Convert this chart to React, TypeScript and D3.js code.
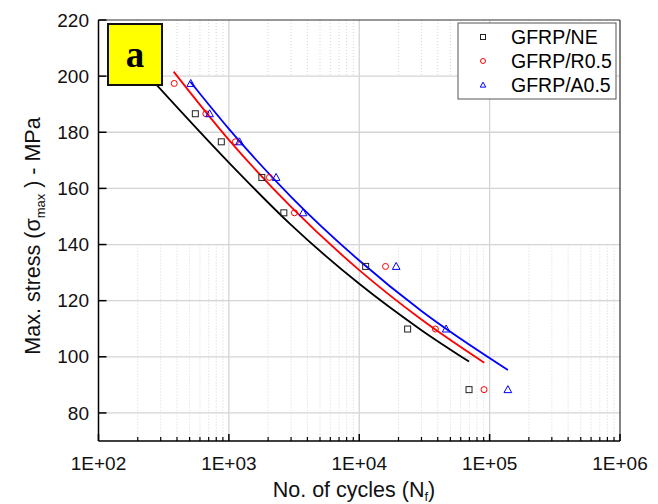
import React from "react";
import * as d3 from "d3";

const stressLevels = [197.4, 186.6, 176.6, 163.9, 151.3, 132.2, 109.9, 88.3];
const stressNE = [186.6, 176.6, 163.9, 151.3, 132.2, 109.9, 88.3];
const cyclesNE = [553, 875, 1790, 2640, 11200, 23500, 69500];
const cyclesR05 = [381, 666, 1122, 2046, 3183, 15900, 38400, 90600];
const cyclesA05 = [510, 711, 1205, 2302, 3706, 19200, 46400, 138000];

// fitted curves (N, stress)
const fitNE_N = [270, 1000, 3000, 10000, 30000, 69500];
const fitNE_S = [197.6, 169.2, 147.0, 126.0, 109.5, 98.3];
const fitR05_N = [377, 1000, 3000, 10000, 30000, 91000];
const fitR05_S = [201.6, 177.3, 153.4, 130.9, 113.3, 97.9];
const fitA05_N = [506, 1000, 3000, 10000, 30000, 138000];
const fitA05_S = [198.0, 181.2, 157.0, 134.3, 116.3, 95.3];

const xTickValues = [1e2, 1e3, 1e4, 1e5, 1e6];
const xTickLabels = ["1E+02", "1E+03", "1E+04", "1E+05", "1E+06"];
const yTickValues = [80, 100, 120, 140, 160, 180, 200, 220];

const seriesNames = ["GFRP/NE", "GFRP/R0.5", "GFRP/A0.5"];
const seriesColors = ["#000000", "#ff0000", "#0000ff"];

const W = 658, H = 504;
const L = 98.5, R = 620, T = 20, B = 441;

export default function App() {
  const x = d3.scaleLog().domain([1e2, 1e6]).range([L, R]);
  const y = d3.scaleLinear().domain([70, 220]).range([B, T]);

  const minorX: number[] = [];
  for (let e = 2; e < 6; e++) for (let k = 2; k <= 9; k++) minorX.push(k * Math.pow(10, e));

  const line = d3
    .line<[number, number]>()
    .x((d) => x(d[0]))
    .y((d) => y(d[1]))
    .curve(d3.curveMonotoneX);

  const fits = [
    d3.zip(fitNE_N, fitNE_S) as [number, number][],
    d3.zip(fitR05_N, fitR05_S) as [number, number][],
    d3.zip(fitA05_N, fitA05_S) as [number, number][],
  ];
  const pts: [number[], number[]][] = [
    [cyclesNE, stressNE],
    [cyclesR05, stressLevels],
    [cyclesA05, stressLevels],
  ];

  const font = "Arial, 'Liberation Sans', sans-serif";

  const marker = (i: number, cx: number, cy: number, s: number, key: string) => {
    const c = seriesColors[i];
    if (i === 0)
      return <rect key={key} x={cx - s / 2} y={cy - s / 2} width={s} height={s} fill="none" stroke="#222" strokeWidth={1} />;
    if (i === 1) return <circle key={key} cx={cx} cy={cy} r={s / 2} fill="none" stroke={c} strokeWidth={1} />;
    const h = s * 0.95;
    return (
      <path
        key={key}
        d={`M${cx},${cy - h * 0.6}L${cx + s * 0.55},${cy + h * 0.45}L${cx - s * 0.55},${cy + h * 0.45}Z`}
        fill="none"
        stroke={c}
        strokeWidth={1}
      />
    );
  };

  const bandA: [number, number] = [y(220), y(200)];
  const bandB: [number, number] = [y(140), y(70)];

  return (
    <svg width={W} height={H} style={{ position: "absolute", left: 0, top: 0, background: "#fff" }} fontFamily={font}>
      {/* minor grid (dotted) */}
      {minorX.map((v, i) => (
        <g key={"mg" + i} stroke="#d6d6d6" strokeWidth={1} strokeDasharray="1,2">
          <line x1={x(v)} x2={x(v)} y1={bandA[0]} y2={bandA[1]} />
          <line x1={x(v)} x2={x(v)} y1={bandB[0]} y2={bandB[1]} />
        </g>
      ))}
      {/* major grid */}
      {[1e3, 1e4, 1e5].map((v) => (
        <line key={"vx" + v} x1={x(v)} x2={x(v)} y1={T} y2={B} stroke="#d4d4d4" strokeWidth={1.3} />
      ))}
      {yTickValues.slice(0, -1).map((v) => (
        <line key={"hy" + v} x1={L} x2={R} y1={y(v)} y2={y(v)} stroke="#d4d4d4" strokeWidth={1.3} />
      ))}

      {/* fit curves */}
      {fits.map((f, i) => (
        <path key={"fit" + i} d={line(f) || ""} fill="none" stroke={seriesColors[i]} strokeWidth={1.8} />
      ))}

      {/* data markers */}
      {pts.map(([ns, ss], i) => ns.map((n, j) => marker(i, x(n), y(ss[j]), i === 2 ? 7 : 6, `m${i}-${j}`)))}

      {/* frame */}
      <line x1={L} x2={R} y1={T} y2={T} stroke="#333" strokeWidth={1.2} />
      <line x1={R} x2={R} y1={T} y2={B} stroke="#333" strokeWidth={1.2} />
      <line x1={L} x2={L} y1={T} y2={B} stroke="#000" strokeWidth={1.5} />
      <line x1={L} x2={R} y1={B} y2={B} stroke="#000" strokeWidth={1.5} />

      {/* y ticks */}
      {yTickValues.map((v) => (
        <g key={"yt" + v}>
          <line x1={L} x2={L + 8} y1={y(v)} y2={y(v)} stroke="#000" strokeWidth={1.5} />
          <text x={89} y={y(v)} dy="0.35em" textAnchor="end" fontSize={19} fill="#111">
            {v}
          </text>
        </g>
      ))}
      {/* x ticks */}
      {minorX.map((v, i) => (
        <line key={"xm" + i} x1={x(v)} x2={x(v)} y1={B} y2={B - 4} stroke="#000" strokeWidth={1.2} />
      ))}
      {xTickValues.map((v, i) => (
        <g key={"xt" + v}>
          <line x1={x(v)} x2={x(v)} y1={B} y2={B - 7} stroke="#000" strokeWidth={1.5} />
          <text x={x(v)} y={470} textAnchor="middle" fontSize={19} fill="#111">
            {xTickLabels[i]}
          </text>
        </g>
      ))}

      {/* axis titles */}
      <text x={354} y={497} textAnchor="middle" fontSize={21.5} fill="#111">
        No. of cycles (N<tspan fontSize={13} dy={4}>f</tspan>
        <tspan dy={-4}>)</tspan>
      </text>
      <text transform={`translate(40,236) rotate(-90)`} textAnchor="middle" fontSize={21.5} fill="#111">
        Max. stress (σ<tspan fontSize={13} dy={5}>max</tspan>
        <tspan dy={-5}> ) - MPa</tspan>
      </text>

      {/* legend */}
      <rect x={458} y={23} width={158} height={76} fill="#fff" stroke="#555" strokeWidth={1} />
      {seriesNames.map((s, i) => (
        <g key={"lg" + i}>
          {marker(i, 483, 37 + i * 24, 5, "lm" + i)}
          <text x={511} y={37 + i * 24} dy="0.36em" fontSize={19.5} fill="#000">
            {s}
          </text>
        </g>
      ))}

      {/* panel label */}
      <rect x={108} y={24} width={54} height={61} fill="#ffff00" stroke="#111" strokeWidth={2} />
      <text x={135} y={67} textAnchor="middle" fontSize={37} fontWeight="bold" fontFamily="'Liberation Serif', 'DejaVu Serif', serif" fill="#000">
        a
      </text>
    </svg>
  );
}
